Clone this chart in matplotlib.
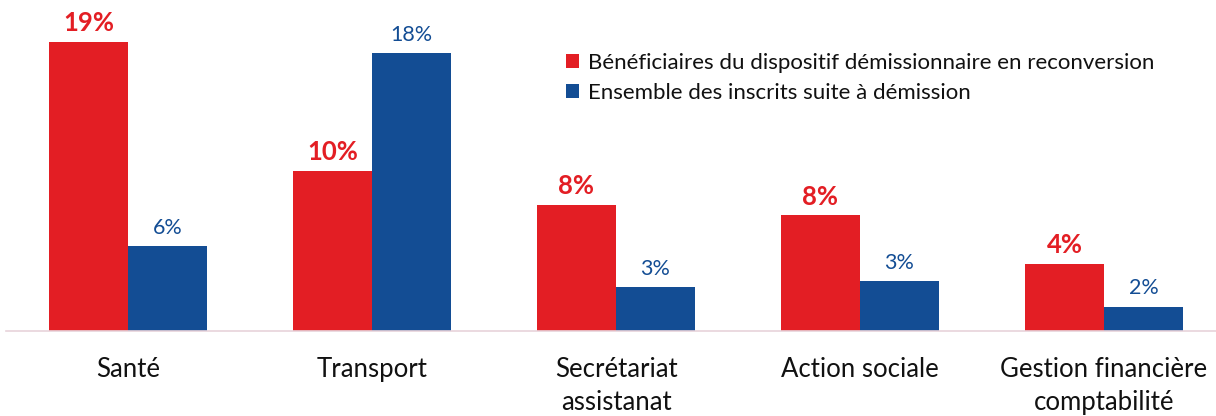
import matplotlib
matplotlib.use("Agg")
import matplotlib.pyplot as plt
import numpy as np

categories = ["Santé", "Transport", "Secrétariat\nassistanat", "Action sociale", "Gestion financière\ncomptabilité"]
series_names = ["Bénéficiaires du dispositif démissionnaire en reconversion",
                "Ensemble des inscrits suite à démission"]
beneficiaires = [19.0, 10.5, 8.3, 7.6, 4.4]
ensemble = [5.6, 18.3, 2.9, 3.3, 1.6]

RED = "#E31E24"
BLUE = "#134D94"

plt.rcParams['font.family'] = ['Lato', 'DejaVu Sans']

W, H = 1216, 416
fig = plt.figure(figsize=(W / 100, H / 100), dpi=100)
ax = fig.add_axes([6 / W, (H - 331) / H, 1220 / W, (331 - 27) / H])

x = np.arange(len(categories))
bw = 0.324
b1 = ax.bar(x - bw / 2, beneficiaires, bw, color=RED, label=series_names[0])
b2 = ax.bar(x + bw / 2, ensemble, bw, color=BLUE, label=series_names[1])

for xi, v in zip(x, beneficiaires):
    ax.annotate(f"{round(v):.0f}%", (xi - bw / 2, v), xytext=(0, 5), textcoords="offset points",
                ha="center", va="bottom", color=RED, fontsize=18.5, fontweight="bold")
for xi, v in zip(x, ensemble):
    ax.annotate(f"{round(v):.0f}%", (xi + bw / 2, v), xytext=(0, 6), textcoords="offset points",
                ha="center", va="bottom", color=BLUE, fontsize=15.5)

ax.set_xlim(-0.5, len(categories) - 0.5)
ax.set_ylim(0, 20)
ax.set_yticks([])
ax.set_xticks(x)
ax.set_xticklabels(categories, fontsize=18.5, color="#111111", linespacing=1.38)
ax.tick_params(axis="x", length=0, pad=19)
for s in ["top", "right", "left"]:
    ax.spines[s].set_visible(False)
ax.spines["bottom"].set_color("#E8D3DA")
ax.spines["bottom"].set_linewidth(1.2)

leg = ax.legend(loc="upper left", bbox_to_anchor=((557 - 6) / 1220, (331 - 44) / 304),
                frameon=False, fontsize=16, handlelength=0.6, handleheight=0.6,
                handletextpad=0.4, labelspacing=0.45, borderaxespad=0)
for t in leg.get_texts():
    t.set_color("#111111")

fig.savefig("out.png", dpi=100)
